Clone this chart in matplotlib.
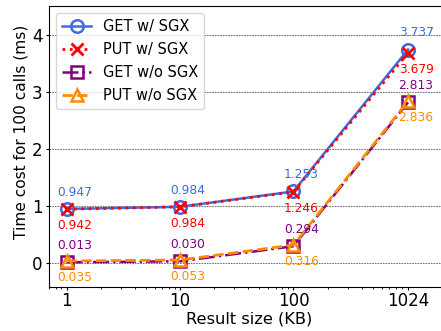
import matplotlib
matplotlib.use("Agg")
import matplotlib.pyplot as plt

sizes = [1, 10, 100, 1024]
size_labels = ["1", "10", "100", "1024"]
get_sgx = [0.947, 0.984, 1.253, 3.737]
put_sgx = [0.942, 0.984, 1.246, 3.679]
get_nosgx = [0.013, 0.030, 0.294, 2.813]
put_nosgx = [0.035, 0.053, 0.316, 2.836]

fig = plt.figure(figsize=(4.41, 3.31), dpi=100)
ax_left, ax_right = 49 / 441, 450 / 441
ax_bottom, ax_top = (331 - 287) / 331, (331 - 6) / 331
ax = fig.add_axes([ax_left, ax_bottom, ax_right - ax_left, ax_top - ax_bottom])

c_blue, c_red, c_purple, c_orange = "royalblue", "red", "purple", "darkorange"

ax.plot(sizes, get_sgx, color=c_blue, ls="-", lw=1.8, marker="o", ms=9,
        mfc="none", mew=1.8, label="GET w/ SGX")
ax.plot(sizes, put_sgx, color=c_red, ls=":", lw=2, marker="x", ms=9,
        mew=2, label="PUT w/ SGX")
ax.plot(sizes, get_nosgx, color=c_purple, ls="-.", lw=1.8, marker="s", ms=9,
        mfc="none", mew=1.8, label="GET w/o SGX")
ax.plot(sizes, put_nosgx, color=c_orange, ls="--", lw=2, marker="^", ms=9,
        mfc="none", mew=1.8, label="PUT w/o SGX")

for vals, col, dy in [(get_sgx, c_blue, 12), (put_sgx, c_red, -12),
                      (get_nosgx, c_purple, 12), (put_nosgx, c_orange, -12)]:
    for x, v in zip(sizes, vals):
        ax.annotate(f"{v:.3f}", (x, v), xytext=(5.8, dy), textcoords="offset points",
                    ha="center", va="center", color=col, fontsize=8.8)

ax.set_xscale("log")
ax.set_xlim(0.7, 2400)
ax.set_ylim(-0.42, 4.5)
ax.set_xticks(sizes)
ax.set_xticklabels(size_labels)
ax.set_yticks([0, 1, 2, 3, 4])
ax.tick_params(axis="both", labelsize=12)
ax.tick_params(axis="x", which="major", length=2.5, pad=1)
ax.tick_params(axis="x", which="minor", length=1.5)
ax.tick_params(axis="y", which="major", length=2.5, pad=2)
ax.yaxis.grid(True, linestyle=(0, (2, 1.2)), linewidth=0.6, color="#555555")
ax.set_axisbelow(True)
ax.set_xlabel("Result size (KB)", fontsize=11.7, labelpad=1)
ax.set_ylabel("Time cost for 100 calls (ms)", fontsize=11.1)
ax.yaxis.set_label_coords(-0.05, 0.552)
ax.legend(loc="upper left", fontsize=10.5, handlelength=2, borderpad=0.4,
          labelspacing=0.55)

fig.savefig("out.png", dpi=100)
